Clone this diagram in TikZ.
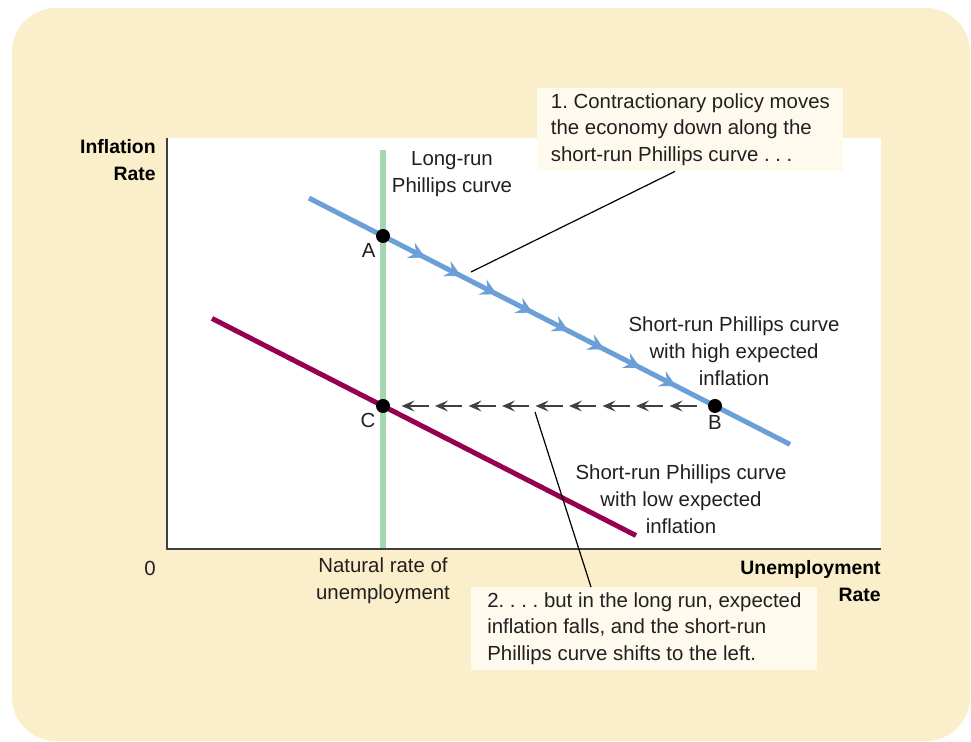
\documentclass[tikz,border=0pt]{standalone}
\usepackage{fontspec}
\setmainfont{Liberation Sans}
\usepackage{tikz}
\usetikzlibrary{calc,arrows.meta,positioning,decorations.markings}
\definecolor{bgc}{HTML}{FBEECB}
\definecolor{notec}{HTML}{FEFAEE}
\definecolor{lrc}{HTML}{A3D6B1}
\definecolor{hic}{HTML}{6A9FD8}
\definecolor{loc}{HTML}{960050}
\definecolor{axc}{HTML}{404040}
\definecolor{txc}{HTML}{231F20}
\frenchspacing
\tikzset{
  ax/.style={axc,line width=1pt},
  nd/.style={circle,fill=black,minimum size=7pt,inner sep=0pt},
  lab/.style={align=center,text=txc,font=\fontsize{10.2}{13.4}\selectfont},
  pl/.style={text=txc,inner sep=1pt,font=\fontsize{10.2}{13.4}\selectfont},
  bl/.style={align=right,text=black,inner sep=0pt,font=\fontsize{9.7}{13.2}\selectfont\bfseries},
  note/.style={fill=notec,align=left,text=txc,inner xsep=5pt,inner ysep=2.5pt,font=\fontsize{10.2}{13.4}\selectfont},
  ptr/.style={black,line width=0.6pt},
  hiar/.style={decoration={markings,mark=between positions 0.2415 and 0.77 step 0.0745 with {\arrow{Stealth[length=8pt,width=8.5pt,inset=3pt,line width=0.4pt]}}},postaction={decorate}},
  shar/.style={axc,line width=0.75pt,-{Stealth[length=6.5pt,width=5.5pt,inset=2.8pt,line width=0.4pt]}}
}
\begin{document}
\begin{tikzpicture}[x=0.5pt,y=-0.5pt]
\useasboundingbox (0,0) rectangle (971,742);
\fill[bgc,rounded corners=22pt] (12,8) rectangle (970,741);
\fill[white] (167,138) rectangle (881,549);
\coordinate (pA) at (383,236);
\coordinate (pB) at (715,406);
\coordinate (pC) at (383,406);
\coordinate (pD) at ($(pC)+(pB)-(pA)$);
\draw[lrc,line width=3pt] (383,150) -- (383,549);
\draw[ax] (167,138) -- (167,549) -- (881,549);
\draw[hic,line width=2.5pt,hiar] ($(pA)!-0.223!(pB)$) -- ($(pA)!1.226!(pB)$);
\draw[loc,line width=2.5pt] ($(pC)!-0.515!(pD)$) -- ($(pC)!0.762!(pD)$);
\node[nd] (A) at (pA) {};
\node[nd] (B) at (pB) {};
\node[nd] (C) at (pC) {};
\node[pl,anchor=north east] at (A.south west) {A};
\node[pl,anchor=north east] at (C.south west) {C};
\node[pl,below=0pt of B] {B};
\coordinate (bs) at ([xshift=-5.5pt]B.west);
\coordinate (ce) at ([xshift=5.5pt]C.east);
\foreach \i in {0,...,8}{\draw[shar] ($(bs)!{\i*16.8/148}!(ce)$) -- ($(bs)!{(\i*16.8+13.5)/148}!(ce)$);}
\node[lab] (lrun) at (452,174) {Long-run\\Phillips curve};
\node[lab] (hilab) at (734,351) {Short-run Phillips curve\\with high expected\\inflation};
\node[lab] (lolab) at (681,499) {Short-run Phillips curve\\with low expected\\inflation};
\node[lab] (nat) at (383,581) {Natural rate of\\unemployment};
\node[lab] (zero) at (150,568) {0};
\node[bl,anchor=east] (ylab) at (156,160) {Inflation\\Rate};
\node[bl,anchor=east] (xlab) at (881,581) {Unemployment\\Rate};
\node[note,anchor=north west,minimum width=153pt] (box1) at (537,88) {1. Contractionary policy moves\\the economy down along the\\short-run Phillips curve . . .};
\node[note,anchor=north west,minimum width=173pt] (box2) at (471,587) {2. . . . but in the long run, expected\\inflation falls, and the short-run\\Phillips curve shifts to the left.};
\coordinate (p1) at (471,272);
\coordinate (p2) at (535,412);
\draw[ptr] (p1) -- (box1.south -| 675,0);
\draw[ptr] (p2) -- (box2.north -| 591,0);
\end{tikzpicture}
\end{document}
